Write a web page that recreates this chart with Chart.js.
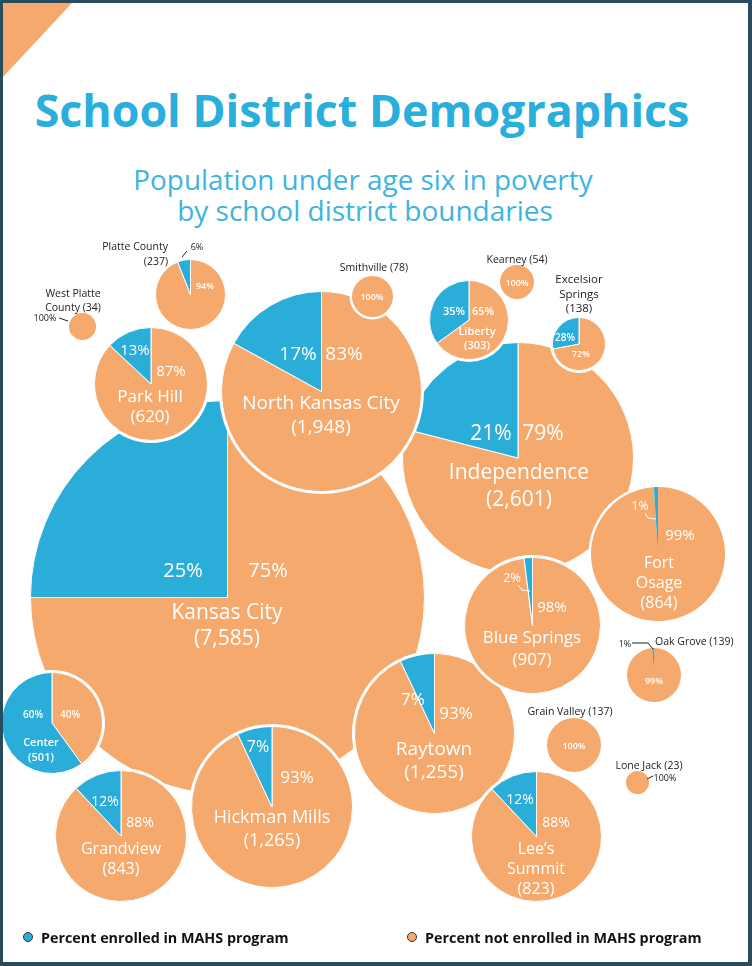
<!DOCTYPE html>
<html>
<head>
<meta charset="utf-8">
<script src="https://cdn.jsdelivr.net/npm/chart.js@4.4.1/dist/chart.umd.min.js"></script>
<style>
body { margin: 0; background: #fff; }
#page { position: relative; width: 752px; height: 966px; overflow: hidden; font-family: "Open Sans", sans-serif; background: #fff; }
#frame { position: absolute; left: 0; top: 0; width: 752px; height: 966px; box-sizing: border-box; border: solid #284b5e; border-width: 3px 4px 4px 3px; z-index: 50; }
.t { position: absolute; white-space: pre; line-height: 1; z-index: 30; }
canvas { position: absolute; }
svg { position: absolute; left: 0; top: 0; z-index: 31; }
</style>
</head>
<body>
<div id="page">
  <svg width="752" height="966" id="deco"></svg>
  <div id="frame"></div>
</div>
<script>
const districts = ["Kansas City", "Independence", "North Kansas City", "Hickman Mills", "Raytown", "Blue Springs",
  "Fort Osage", "Grandview", "Lee’s Summit", "Park Hill", "Center", "Liberty", "Platte County", "Oak Grove",
  "Excelsior Springs", "Grain Valley", "Smithville", "Kearney", "West Platte County", "Lone Jack"];
const population = [7585, 2601, 1948, 1265, 1255, 907, 864, 843, 823, 620, 501, 303, 237, 139, 138, 137, 78, 54, 34, 23];
const enrolledPct = [25, 21, 17, 7, 7, 2, 1, 12, 12, 13, 60, 35, 6, 1, 28, 0, 0, 0, 0, 0];
const notEnrolledPct = [75, 79, 83, 93, 93, 98, 99, 88, 88, 87, 40, 65, 94, 99, 72, 100, 100, 100, 100, 100];
const legendLabels = ["Percent enrolled in MAHS program", "Percent not enrolled in MAHS program"];

const BLUE = "#2aaed9";
const ORANGE = "#f5a96c";
const DARK = "#222";
const SCALE = 2.262; // radius px per sqrt(children)

// where each bubble and its labels sit on the page
const layout = [
  { c: [227, 597], b: [183, 570, 20], o: [268, 570, 20], n: [227, 624, 21, 26] },
  { c: [518, 458], b: [491, 432, 21], o: [543, 432, 21], n: [519, 485, 21, 27] },
  { c: [321, 391], b: [298, 353, 19], o: [344, 353, 19], n: [321, 414, 19, 24] },
  { c: [272, 807], b: [258, 746, 16], o: [297, 776, 17], n: [272, 828, 18, 23] },
  { c: [434, 733], b: [413, 698, 17], o: [456, 712, 17], n: [434, 760, 19, 23] },
  { c: [532, 625], b: [512, 577, 13], o: [552, 606, 15], n: [532, 648, 17, 22] },
  { c: [658, 554], b: [640, 506, 12], o: [680, 534, 15], n: [659, 582, 16, 20], brk: 1 },
  { c: [121, 836], b: [105, 801, 14], o: [140, 822, 14], n: [121, 858, 16, 20] },
  { c: [536, 836], b: [520, 799, 14], o: [556, 822, 14], n: [536, 868, 16, 20], brk: 1 },
  { c: [151, 384], b: [135, 349, 15], o: [171, 370, 15], n: [150, 406, 17, 20] },
  { c: [52, 723], b: [33, 714, 10], o: [70, 714, 10], n: [41, 749, 11, 15] },
  { c: [469, 320], b: [454, 310, 11], o: [483, 310, 11], n: [477, 338, 11, 14] },
  { c: [190, 294], b: [197, 246, 9], bDark: true, o: [205, 285, 9], n: [168, 254, 10.5, 15], nDark: true, align: "right" },
  { c: [654, 675], b: [625, 643, 9], bDark: true, o: [654, 680, 9], n: [655, 641, 10.5], nDark: true, align: "left", sep: " " },
  { c: [579, 344], b: [565, 337, 10], o: [581, 353, 9], n: [579, 294, 11.5, 14.5], nDark: true, brk: 1 },
  { c: [574, 745], o: [574, 745, 9], n: [570, 711, 10.5], nDark: true, sep: " " },
  { c: [372, 296], o: [372, 296, 9], n: [374, 267, 10.5], nDark: true, sep: " " },
  { c: [517, 282], o: [517, 282, 9], n: [517, 259, 10.5], nDark: true, sep: " " },
  { c: [82, 326], o: [45, 317, 9], oDark: true, n: [73, 300, 10.5, 13.5], nDark: true, brk: 2, sep: " " },
  { c: [637, 782], o: [665, 777, 9], oDark: true, n: [649, 765, 10.5], nDark: true, sep: " " }
];

const page = document.getElementById("page");

function text(str, x, y, size, opt = {}) {
  const d = document.createElement("div");
  d.className = "t";
  d.textContent = str;
  d.style.fontSize = size + "px";
  if (opt.lh) d.style.lineHeight = opt.lh + "px";
  d.style.color = opt.color || "#fff";
  d.style.fontWeight = opt.weight || (size < 12 && !opt.color ? 600 : 400);
  d.style.left = x + "px";
  d.style.top = y + "px";
  const align = opt.align || "center";
  d.style.textAlign = align;
  const tx = align === "right" ? "-100%" : align === "left" ? "0" : "-50%";
  d.style.transform = "translate(" + tx + ",-50%)";
  page.appendChild(d);
  if (opt.fit) d.style.fontSize = (size * opt.fit / d.offsetWidth) + "px";
  return d;
}

// white halo round every bubble so overlaps read as separate circles
const ring = {
  id: "ring",
  beforeDatasetsDraw(chart) {
    const arc = chart.getDatasetMeta(0).data[0];
    const ctx = chart.ctx;
    ctx.save();
    ctx.beginPath();
    ctx.arc(arc.x, arc.y, arc.outerRadius + 2.5, 0, Math.PI * 2);
    ctx.fillStyle = "#fff";
    ctx.fill();
    ctx.restore();
  }
};

// top left corner flag
const deco = document.getElementById("deco");
deco.innerHTML = '<polygon points="3,3 72,3 3,77" fill="' + ORANGE + '"/>';

districts.forEach((name, i) => {
  const r = SCALE * Math.sqrt(population[i]);
  const [cx, cy] = layout[i].c;
  const pad = 4;
  const size = Math.round(2 * r + 1 + 2 * pad);
  const cv = document.createElement("canvas");
  cv.width = size;
  cv.height = size;
  cv.style.left = (cx - size / 2) + "px";
  cv.style.top = (cy - size / 2) + "px";
  cv.style.zIndex = 1 + i;
  page.appendChild(cv);
  new Chart(cv, {
    type: "pie",
    data: {
      labels: [legendLabels[1], legendLabels[0]],
      datasets: [{
        data: [notEnrolledPct[i], enrolledPct[i]],
        backgroundColor: [ORANGE, BLUE],
        borderColor: "#fff",
        borderWidth: enrolledPct[i] >= 2 ? 1 : 0
      }]
    },
    options: {
      responsive: false,
      animation: false,
      layout: { padding: pad },
      plugins: { legend: { display: false }, tooltip: { enabled: false } }
    },
    plugins: [ring]
  });
});

districts.forEach((name, i) => {
  const L = layout[i];
  if (L.b) text(enrolledPct[i] + "%", L.b[0], L.b[1], L.b[2], { color: L.bDark ? DARK : null });
  text(notEnrolledPct[i] + "%", L.o[0], L.o[1], L.o[2], { color: L.oDark ? DARK : null });
  const words = name.split(" ");
  const label = L.brk ? words.slice(0, L.brk).join(" ") + "\n" + words.slice(L.brk).join(" ") : name;
  const str = label + (L.sep || "\n") + "(" + population[i].toLocaleString("en-US") + ")";
  text(str, L.n[0], L.n[1], L.n[2], {
    lh: L.n[3], color: L.nDark ? DARK : null, align: L.align,
    weight: L.nDark ? 400 : (L.n[2] < 12 ? 600 : 400)
  });
});

// little leader lines for the tiny shares
const leaders = [
  ["182,257 187,251", DARK], ["59,318 68,321", DARK], ["632,643 648,643 653,649", DARK],
  ["647,779 653,776", DARK], ["645,513 648,518 656,519", "#fff"], ["518,585 522,590 530,591", "#fff"]
];
deco.innerHTML += leaders.map(l => '<polyline points="' + l[0] + '" fill="none" stroke="' + l[1] + '" stroke-width="1"/>').join("");

// titles
text("School District Demographics", 362, 110, 44, { color: "#2aaedb", weight: 700, fit: 655 });
text("Population under age six in poverty", 363, 180, 26, { color: "#3db4de", fit: 460 });
text("by school district boundaries", 365, 210, 26, { color: "#3db4de", fit: 376 });

// legend
[[28, BLUE, 41, 248], [412, ORANGE, 425, 277]].forEach((l, k) => {
  const dot = document.createElement("div");
  dot.style.cssText = "position:absolute;z-index:30;width:8px;height:8px;border-radius:50%;border:1px solid #333;left:" +
    (l[0] - 5) + "px;top:932px;background:" + l[1];
  page.appendChild(dot);
  text(legendLabels[k], l[2], 938, 14, { color: "#111", weight: 700, align: "left", fit: l[3] });
});
</script>
</body>
</html>
